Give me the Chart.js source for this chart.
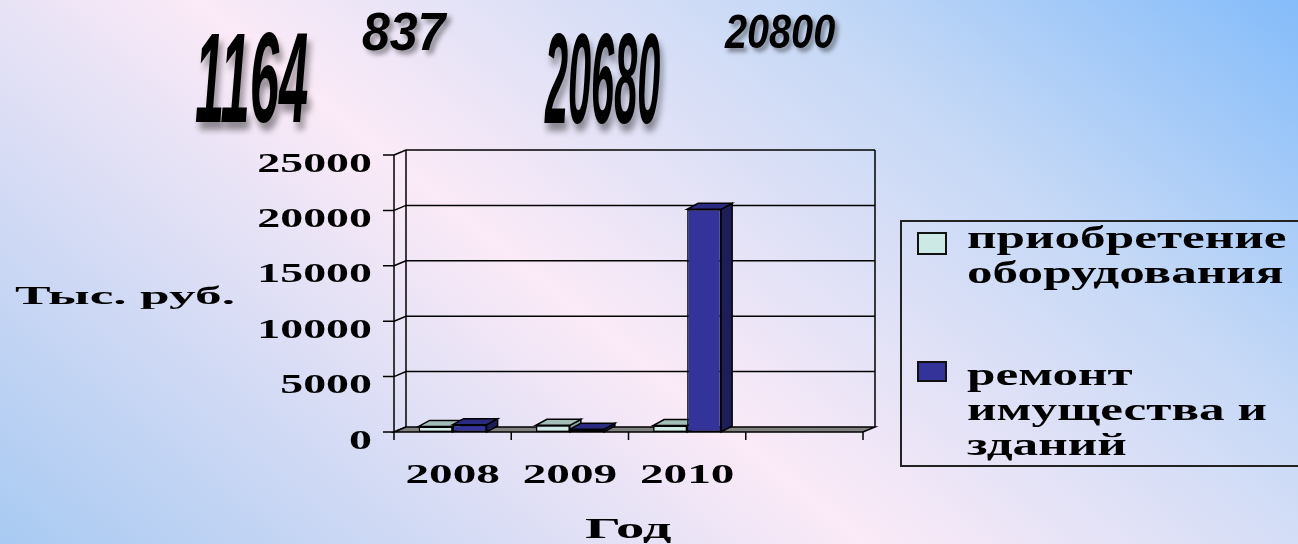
<!DOCTYPE html>
<html>
<head>
<meta charset="utf-8">
<script src="https://cdn.jsdelivr.net/npm/chart.js@4.4.1/dist/chart.umd.min.js"></script>
<style>
  html, body { margin: 0; padding: 0; }
  body {
    width: 1298px; height: 544px; overflow: hidden; position: relative;
    background: linear-gradient(39deg, #a8caf2 0%, #fbeaf7 44%, #c4d8f6 75%, #84bcfa 100%);
  }
  canvas { position: absolute; left: 0; top: 0; }
  .lbl { position: absolute; white-space: nowrap; transform-origin: 0 0; line-height: 1; color: #000; }
  .big { font-family: "Liberation Sans", Arial, sans-serif; font-weight: bold; font-style: italic; text-shadow: 4px 4px 5px rgba(0,0,0,0.4); }
  .serif { font-family: "Liberation Serif", "Times New Roman", serif; font-weight: bold; }
  #legend { position: absolute; left: 900px; top: 220px; width: 430px; height: 247px; border: 2px solid #222; box-sizing: border-box; }
  .swatch { position: absolute; left: 917px; width: 30px; border: 2px solid #111; box-sizing: border-box; }
  .leg { position: absolute; left: 967px; font-size: 32px; line-height: 35px; white-space: nowrap; transform-origin: 0 0; transform: scaleX(1.6); }
</style>
</head>
<body>
<canvas id="chart" width="1298" height="544"></canvas>
<div id="legend"></div>
<script>
// data
const years = ["2008", "2009", "2010", ""];
const equipment = [500, 600, 580, null];      // приобретение оборудования
const repairs = [664, 237, 20100, null];      // ремонт имущества и зданий
const seriesLabels = ["приобретение оборудования", "ремонт имущества и зданий"];
const legendLines = [["приобретение", "оборудования"], ["ремонт", "имущества и", "зданий"]];
const yTicks = [0, 5000, 10000, 15000, 20000, 25000];
const topNumbers = ["1164", "837", "20680", "20800"];

// where the big numbers go: left, digit top, digit bottom, width, font size
const topLayout = [
  [195, 32, 123, 113, 62],
  [362, 12, 50, 83, 53],
  [545, 32, 124, 115, 62],
  [725, 13, 48, 110, 49],
];

const wall = { dx: 12, dy: -5 };
const depth = { dx: 11, dy: -6 };
const faceColors = [
  { top: "#a3bdb9", side: "#8aa5a1" },
  { top: "#2a2a80", side: "#1d1d58" },
];

function stretchText(ctx, text, x, y, sx, align) {
  ctx.save();
  ctx.translate(x, y);
  ctx.scale(sx, 1);
  ctx.textAlign = align;
  ctx.textBaseline = "alphabetic";
  ctx.fillText(text, 0, 0);
  ctx.restore();
}

const threeD = {
  id: "threeD",
  beforeDatasetsDraw(chart) {
    const { ctx, chartArea: a, scales: { x, y } } = chart;
    const y0 = y.getPixelForValue(0);
    const yTop = y.getPixelForValue(y.max);
    ctx.save();
    ctx.strokeStyle = "#000";
    ctx.lineWidth = 1.5;

    // back wall grid lines
    y.ticks.forEach((t) => {
      const py = y.getPixelForValue(t.value);
      ctx.beginPath();
      ctx.moveTo(a.left, py);
      ctx.lineTo(a.left + wall.dx, py + wall.dy);
      if (t.value > 0) ctx.lineTo(a.right + wall.dx, py + wall.dy);
      ctx.stroke();
    });
    ctx.beginPath();
    ctx.moveTo(a.left + wall.dx, yTop + wall.dy);
    ctx.lineTo(a.left + wall.dx, y0 + wall.dy);
    ctx.moveTo(a.right + wall.dx, yTop + wall.dy);
    ctx.lineTo(a.right + wall.dx, y0 + wall.dy);
    ctx.stroke();

    // floor
    ctx.fillStyle = "#808080";
    ctx.beginPath();
    ctx.moveTo(a.left, y0);
    ctx.lineTo(a.right, y0);
    ctx.lineTo(a.right + wall.dx, y0 + wall.dy);
    ctx.lineTo(a.left + wall.dx, y0 + wall.dy);
    ctx.closePath();
    ctx.fill();
    ctx.stroke();

    // front y axis with ticks
    ctx.beginPath();
    ctx.moveTo(a.left, yTop);
    ctx.lineTo(a.left, y0 + 2);
    y.ticks.forEach((t) => {
      const py = y.getPixelForValue(t.value);
      ctx.moveTo(a.left - 11, py);
      ctx.lineTo(a.left, py);
    });
    // x tick marks at category borders
    for (let i = 0; i <= years.length; i++) {
      const px = x.getPixelForValue(i - 0.5);
      ctx.moveTo(px, y0);
      ctx.lineTo(px, y0 + 8);
    }
    ctx.stroke();

    // top and side faces of the bars
    chart.data.datasets.forEach((ds, i) => {
      const c = faceColors[i];
      chart.getDatasetMeta(i).data.forEach((bar, j) => {
        if (ds.data[j] == null) return;
        const p = bar.getProps(["x", "y", "base", "width"], true);
        const L = p.x - p.width / 2, R = p.x + p.width / 2, T = p.y, B = p.base;
        ctx.fillStyle = c.side;
        ctx.beginPath();
        ctx.moveTo(R, T);
        ctx.lineTo(R + depth.dx, T + depth.dy);
        ctx.lineTo(R + depth.dx, B + depth.dy);
        ctx.lineTo(R, B);
        ctx.closePath();
        ctx.fill();
        ctx.stroke();
        ctx.fillStyle = c.top;
        ctx.beginPath();
        ctx.moveTo(L, T);
        ctx.lineTo(R, T);
        ctx.lineTo(R + depth.dx, T + depth.dy);
        ctx.lineTo(L + depth.dx, T + depth.dy);
        ctx.closePath();
        ctx.fill();
        ctx.stroke();
      });
    });
    ctx.restore();
  },
  afterDraw(chart) {
    const { ctx, scales: { x, y } } = chart;
    ctx.save();
    ctx.fillStyle = "#000";
    ctx.font = "bold 27px 'Liberation Serif', 'Times New Roman', serif";
    y.ticks.forEach((t) => {
      stretchText(ctx, String(t.value), 372, y.getPixelForValue(t.value) + 16.5, 1.7, "right");
    });
    x.ticks.forEach((t) => {
      const label = years[t.value];
      if (label) stretchText(ctx, label, x.getPixelForValue(t.value), 483, 1.75, "center");
    });
    ctx.restore();
  },
};

const chart = new Chart(document.getElementById("chart"), {
  type: "bar",
  data: {
    labels: years,
    datasets: [
      {
        label: seriesLabels[0],
        data: equipment,
        backgroundColor: "#cde9e5",
        borderColor: "#000",
        borderWidth: 1.5,
        borderSkipped: false,
      },
      {
        label: seriesLabels[1],
        data: repairs,
        backgroundColor: "#333399",
        borderColor: "#000",
        borderWidth: 1.5,
        borderSkipped: false,
      },
    ],
  },
  options: {
    responsive: false,
    animation: false,
    devicePixelRatio: 1,
    layout: { padding: { left: 394, right: 435, top: 155, bottom: 112 } },
    datasets: { bar: { categoryPercentage: 0.58, barPercentage: 1 } },
    scales: {
      x: { display: false, offset: true },
      y: {
        display: false,
        min: 0,
        max: 25000,
        afterBuildTicks: (axis) => {
          axis.ticks = yTicks.map((v) => ({ value: v }));
        },
      },
    },
    plugins: { legend: { display: false }, tooltip: { enabled: false } },
  },
  plugins: [threeD],
});

// stretched html text: width fitted, height from the glyph height
function addText(text, cls, left, top, height, width, size, capRatio, ascentRatio) {
  const el = document.createElement("div");
  el.className = "lbl " + cls;
  el.textContent = text;
  el.style.fontSize = size + "px";
  document.body.appendChild(el);
  const sy = height / (capRatio * size);
  const sx = width / el.offsetWidth;
  el.style.left = left + "px";
  el.style.top = top - sy * (ascentRatio - capRatio) * size + "px";
  el.style.transform = "scale(" + sx + "," + sy + ")";
  return el;
}

topNumbers.forEach((n, i) => {
  const [l, t, b, w, s] = topLayout[i];
  addText(n, "big", l, t, b - t, w, s, 0.716, 0.8465);
});
addText("Тыс. руб.", "serif", 15, 287, 17, 220, 25, 0.662, 0.8375);
addText("Год", "serif", 585, 518, 20, 87, 30, 0.662, 0.8375);

// legend
const swatchTops = [[232, 23], [361, 21]];
const groupTops = [219.7, 356.7];
chart.data.datasets.forEach((ds, i) => {
  const sw = document.createElement("div");
  sw.className = "swatch";
  sw.style.top = swatchTops[i][0] + "px";
  sw.style.height = swatchTops[i][1] + "px";
  sw.style.background = ds.backgroundColor;
  document.body.appendChild(sw);
  const t = document.createElement("div");
  t.className = "leg serif";
  t.style.top = groupTops[i] + "px";
  t.innerHTML = legendLines[i].join("<br>");
  document.body.appendChild(t);
});
</script>
</body>
</html>
